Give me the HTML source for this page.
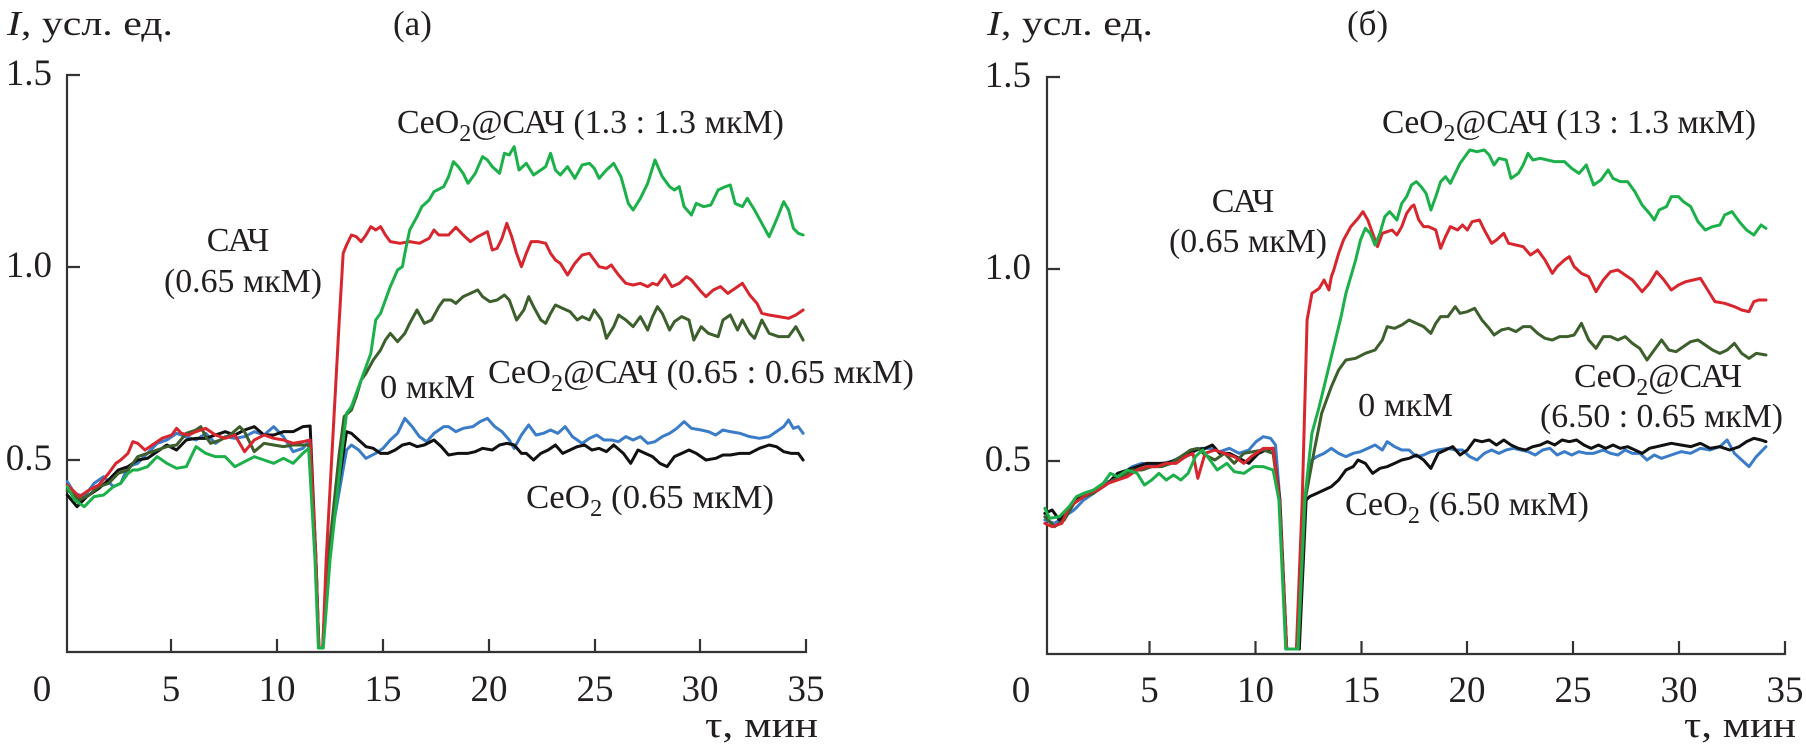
<!DOCTYPE html>
<html><head><meta charset="utf-8"><style>
html,body{margin:0;padding:0;background:#fff;}
svg{display:block;}
text{font-family:"Liberation Serif","DejaVu Serif",serif;fill:#231f20;}
.ax{stroke:#333;stroke-width:2.2;fill:none;}
.tk{font-size:37px;}
.an{font-size:34px;}
.s{fill:none;stroke-width:3;stroke-linejoin:round;stroke-linecap:round;vector-effect:non-scaling-stroke;}
.r{stroke:#d7262e;}.g{stroke:#1cb04b;}.d{stroke:#3c5f2c;}.b{stroke:#3b7cc9;}.k{stroke:#111;}
</style></head><body>
<svg width="1806" height="751" viewBox="0 0 1806 751" xmlns="http://www.w3.org/2000/svg">
<!-- Panel a axes -->
<path class="ax" d="M80,75 H67 V652 H806 V639 M67,267 H80 M67,460 H80 M171,652 V639 M277,652 V639 M383,652 V639 M489,652 V639 M595,652 V639 M700,652 V639"/>
<text x="7" y="35" font-size="35" textLength="166" lengthAdjust="spacingAndGlyphs"><tspan font-style="italic">I</tspan>, усл. ед.</text>
<text x="393" y="35" font-size="35">(а)</text>
<text class="tk" x="52" y="85" text-anchor="end">1.5</text>
<text class="tk" x="52" y="277" text-anchor="end">1.0</text>
<text class="tk" x="52" y="470" text-anchor="end">0.5</text>
<text class="tk" x="42" y="701" text-anchor="middle">0</text>
<text class="tk" x="171" y="701" text-anchor="middle">5</text>
<text class="tk" x="277" y="701" text-anchor="middle">10</text>
<text class="tk" x="383" y="701" text-anchor="middle">15</text>
<text class="tk" x="489" y="701" text-anchor="middle">20</text>
<text class="tk" x="595" y="701" text-anchor="middle">25</text>
<text class="tk" x="700" y="701" text-anchor="middle">30</text>
<text class="tk" x="806" y="701" text-anchor="middle">35</text>
<text class="tk" x="705" y="737" textLength="113" lengthAdjust="spacingAndGlyphs">τ, мин</text>

<!-- Panel b axes -->
<path class="ax" d="M1060,77 H1047 V654 H1785 V641 M1047,269 H1060 M1047,461 H1060 M1149.5,654 V641 M1255.5,654 V641 M1361.5,654 V641 M1467,654 V641 M1573,654 V641 M1679,654 V641"/>
<text x="987" y="35" font-size="35" textLength="166" lengthAdjust="spacingAndGlyphs"><tspan font-style="italic">I</tspan>, усл. ед.</text>
<text x="1347" y="35" font-size="35">(б)</text>
<text class="tk" x="1031" y="87" text-anchor="end">1.5</text>
<text class="tk" x="1031" y="279" text-anchor="end">1.0</text>
<text class="tk" x="1031" y="471" text-anchor="end">0.5</text>
<text class="tk" x="1021" y="702" text-anchor="middle">0</text>
<text class="tk" x="1149.5" y="702" text-anchor="middle">5</text>
<text class="tk" x="1255.5" y="702" text-anchor="middle">10</text>
<text class="tk" x="1361.5" y="702" text-anchor="middle">15</text>
<text class="tk" x="1467" y="702" text-anchor="middle">20</text>
<text class="tk" x="1573" y="702" text-anchor="middle">25</text>
<text class="tk" x="1679" y="702" text-anchor="middle">30</text>
<text class="tk" x="1785" y="702" text-anchor="middle">35</text>
<text class="tk" x="1684" y="737" textLength="112" lengthAdjust="spacingAndGlyphs">τ, мин</text>

<!-- Panel a data -->
<g transform="translate(60 120) scale(0.4857 0.33333)">
<polyline class="s b" points="15,1085 30,1120 50,1130 70,1090 90,1070 110,1100 125,1090 140,1040 160,1030 180,1000 200,970 220,960 240,940 260,950 280,960 300,940 320,970 340,950 360,955 380,950 400,935 420,945 440,920 460,950 480,995 500,985 515,960 527,1320 533,1584 541,1584 550,1320 590,990 600,975 615,990 630,1015 650,1000 665,985 680,960 695,940 710,895 725,920 740,950 755,965 770,940 790,920 800,920 815,935 830,925 850,920 865,905 880,895 895,920 910,935 925,960 935,985 950,945 965,915 980,945 995,940 1010,930 1025,940 1040,920 1055,950 1075,970 1090,955 1105,945 1120,960 1135,960 1150,965 1165,950 1180,960 1195,950 1210,970 1225,965 1240,950 1255,940 1270,925 1285,905 1300,925 1320,930 1335,935 1350,945 1365,930 1380,935 1400,940 1420,950 1440,955 1460,950 1475,935 1490,920 1500,900 1510,925 1520,920 1530,940"/>
<polyline class="s k" points="15,1125 35,1160 55,1130 80,1105 100,1080 120,1050 140,1040 160,1020 180,1015 200,995 220,975 240,990 260,960 280,955 300,955 320,945 340,935 360,945 380,930 400,920 420,945 440,945 460,935 480,935 500,920 515,918 527,1320 533,1584 541,1584 550,1320 590,935 600,940 615,960 630,980 645,985 660,1000 675,1000 690,990 705,975 720,970 735,980 750,975 770,960 785,980 800,1005 820,1000 840,1000 855,995 870,985 890,990 905,975 920,970 935,975 950,1000 960,1000 975,1020 990,1000 1005,990 1020,975 1035,1000 1050,990 1065,980 1080,975 1095,990 1110,985 1125,995 1140,975 1160,1000 1175,1030 1190,990 1205,1000 1220,1010 1235,1030 1250,1040 1265,1010 1280,1000 1295,990 1310,1000 1330,1020 1350,1015 1365,1005 1380,1005 1400,1000 1420,1000 1440,985 1460,975 1475,980 1490,995 1505,1000 1520,1000 1530,1020"/>
<polyline class="s d" points="15,1110 40,1140 60,1125 80,1100 100,1090 120,1060 140,1050 160,1010 180,1000 200,990 220,980 240,975 260,940 280,930 290,920 300,950 310,970 330,960 350,945 370,920 380,935 400,995 420,970 440,975 460,980 480,975 500,975 512,975 526,1320 533,1584 541,1584 552,1320 575,1000 585,890 600,870 610,830 620,780 630,760 645,720 660,690 670,660 680,640 695,665 710,640 720,610 735,570 750,610 765,600 780,560 790,540 805,540 815,550 830,530 845,520 860,510 870,530 885,545 900,540 915,525 925,540 940,600 955,570 965,530 975,560 990,600 1000,610 1010,580 1020,555 1035,565 1050,575 1065,600 1075,590 1090,600 1100,570 1115,600 1125,655 1140,620 1150,585 1165,600 1180,620 1195,590 1210,630 1220,590 1230,560 1240,580 1255,630 1265,605 1280,590 1295,600 1305,660 1320,620 1335,640 1355,650 1365,600 1380,585 1395,630 1405,600 1420,640 1430,655 1445,600 1460,640 1480,650 1500,650 1515,620 1530,660"/>
<polyline class="s r" points="15,1095 40,1130 60,1110 80,1095 100,1060 115,1030 125,1020 140,1000 150,965 160,970 175,990 190,975 210,955 230,945 240,925 250,940 265,945 280,935 300,925 320,945 340,955 360,945 380,995 400,960 420,945 440,955 460,960 480,970 500,965 515,960 527,1320 533,1584 541,1584 548,1320 575,600 583,400 590,375 600,345 610,350 620,365 630,345 640,320 650,330 660,320 670,345 680,365 700,370 720,365 740,370 760,355 770,330 780,345 800,345 815,322 830,345 845,365 860,350 880,335 890,390 900,385 910,355 920,310 930,350 940,400 950,440 960,400 970,365 985,365 1000,370 1010,400 1020,420 1030,430 1045,465 1060,430 1075,405 1090,400 1100,420 1110,440 1125,445 1135,435 1150,465 1165,490 1180,495 1195,490 1210,500 1220,490 1230,495 1245,465 1260,500 1275,490 1290,470 1300,480 1320,515 1330,530 1345,510 1360,500 1375,520 1390,505 1405,490 1420,525 1435,550 1445,580 1460,585 1480,590 1500,595 1515,585 1530,570"/>
<polyline class="s g" points="15,1100 30,1140 50,1160 70,1130 90,1125 110,1100 125,1090 140,1060 150,1050 160,1050 180,1040 200,1010 220,1030 240,1045 260,1040 280,980 300,1000 320,1010 340,1010 360,1040 380,1025 400,1010 420,1020 440,1030 460,1015 480,1030 500,1000 512,985 525,1320 532,1584 542,1584 556,1320 580,1000 590,880 600,860 615,800 625,760 640,700 650,600 660,580 670,540 680,500 695,450 705,440 710,400 720,330 735,290 745,260 760,240 770,215 790,200 800,170 810,125 820,140 830,160 840,190 855,160 870,110 880,120 890,140 905,160 915,100 925,105 935,80 945,150 960,130 975,165 990,150 1000,140 1010,100 1020,150 1030,165 1045,140 1060,175 1075,135 1090,130 1100,145 1110,175 1125,150 1140,130 1155,170 1170,250 1180,270 1195,235 1210,190 1225,120 1240,170 1255,200 1265,210 1275,200 1285,260 1300,285 1310,250 1325,260 1340,255 1355,210 1370,200 1380,195 1390,250 1405,260 1415,235 1430,270 1445,310 1460,350 1475,300 1490,245 1500,270 1510,325 1520,340 1530,345"/>
</g>

<!-- Panel b data -->
<g transform="translate(1040 120) scale(0.4856 0.33333)">
<polyline class="s b" points="10,1200 30,1210 50,1190 70,1170 90,1140 110,1120 130,1090 150,1080 170,1060 190,1040 210,1030 230,1035 250,1030 270,1025 290,1010 310,1000 330,985 350,985 370,995 390,985 410,1000 430,990 445,965 460,950 475,955 485,975 494,1140 508,1587 530,1587 545,1140 560,1020 570,1010 585,1000 600,985 615,1000 630,1010 645,1000 660,995 675,985 690,975 705,990 715,965 730,980 745,990 760,990 775,1010 790,1005 805,995 820,990 840,985 855,990 870,990 885,1010 900,1020 915,1000 930,990 945,1000 960,990 975,985 990,990 1005,995 1020,1005 1035,990 1050,985 1065,1005 1080,995 1095,1005 1110,995 1125,1000 1140,1000 1160,990 1175,1000 1190,1005 1205,990 1220,1000 1235,1000 1250,1020 1265,1005 1280,1015 1300,1005 1320,995 1340,1000 1360,985 1380,990 1400,980 1415,960 1430,1000 1445,1020 1460,1040 1475,1010 1495,980"/>
<polyline class="s k" points="10,1180 25,1170 40,1200 60,1170 80,1130 100,1120 120,1110 140,1090 160,1060 180,1050 200,1040 220,1030 240,1030 260,1030 280,1020 300,1010 320,990 340,985 355,975 370,1000 390,1000 410,1015 430,1030 450,1000 465,990 480,985 494,1140 508,1587 534,1587 548,1140 555,1130 570,1120 585,1110 600,1100 615,1080 630,1050 645,1040 655,1020 670,1030 685,1060 700,1045 715,1040 730,1030 745,1020 760,1015 775,1005 790,1020 805,1045 820,1000 835,990 850,980 865,1005 880,990 895,960 910,965 925,960 940,975 955,960 970,975 985,985 1000,990 1015,980 1030,975 1045,965 1060,975 1075,960 1090,965 1105,960 1120,975 1135,985 1150,975 1165,985 1180,975 1195,985 1210,980 1225,990 1240,1000 1255,985 1270,980 1285,975 1300,970 1320,975 1340,980 1360,970 1380,985 1400,980 1420,990 1440,980 1455,965 1470,955 1485,960 1495,965"/>
<polyline class="s d" points="10,1190 30,1220 50,1200 70,1150 90,1130 110,1120 130,1100 150,1080 170,1070 190,1050 210,1050 230,1040 250,1040 270,1030 290,1010 310,990 325,985 340,1005 360,1020 380,1000 400,1030 420,1000 440,995 460,990 480,1000 493,1140 508,1587 532,1587 546,1140 565,990 580,880 600,800 615,750 630,720 650,715 670,700 690,690 705,660 715,620 730,625 745,615 760,600 775,610 790,620 805,640 815,610 825,590 840,590 855,560 865,580 880,575 895,565 910,600 925,625 935,645 950,630 965,625 980,635 995,620 1010,620 1025,640 1040,655 1055,660 1070,650 1085,650 1100,645 1115,610 1130,660 1145,685 1160,650 1175,650 1190,660 1205,650 1220,670 1235,685 1250,720 1265,690 1280,660 1295,690 1310,695 1325,680 1340,665 1355,660 1370,675 1385,690 1400,700 1415,690 1430,670 1445,700 1460,715 1475,700 1495,705"/>
<polyline class="s r" points="10,1210 25,1220 45,1210 60,1160 80,1140 100,1120 120,1110 140,1090 160,1080 180,1070 200,1050 220,1040 240,1040 260,1030 280,1030 300,1010 315,1000 325,1075 340,1000 360,990 380,1000 400,1010 420,1030 435,1010 460,985 480,985 493,1140 508,1587 528,1587 540,1140 550,600 560,520 575,505 585,480 595,510 600,470 605,450 615,400 625,360 640,320 655,295 665,275 675,300 685,340 695,380 705,340 715,335 725,330 735,345 745,320 755,280 765,260 770,255 780,300 790,320 800,320 815,330 825,385 835,350 845,320 860,330 870,315 880,330 890,305 905,300 915,330 930,370 940,360 955,340 965,370 980,375 995,380 1010,405 1025,390 1040,420 1055,460 1065,440 1080,420 1090,410 1100,440 1115,460 1130,470 1145,515 1160,480 1175,455 1190,450 1205,465 1220,480 1240,515 1255,490 1270,455 1285,480 1300,510 1315,495 1330,485 1345,480 1360,475 1375,510 1390,545 1410,550 1430,560 1445,570 1460,575 1470,545 1480,540 1495,540"/>
<polyline class="s g" points="10,1165 20,1195 40,1190 60,1160 75,1130 90,1120 110,1110 130,1090 145,1060 160,1070 180,1050 200,1060 215,1095 230,1080 245,1060 260,1080 275,1065 290,1080 305,1060 320,1010 335,990 350,1020 365,1050 385,1030 400,1055 420,1060 440,1040 460,1040 480,1050 492,1140 506,1587 531,1587 545,1140 560,940 575,860 590,770 605,680 620,590 630,520 640,470 650,420 660,360 670,325 680,340 690,375 700,340 710,290 720,275 735,300 745,250 755,230 765,195 775,185 785,200 795,220 805,270 815,230 825,185 835,170 845,190 855,160 865,130 875,110 885,90 900,95 915,90 925,105 935,135 945,115 960,120 970,175 985,160 995,135 1005,100 1015,120 1030,115 1045,120 1060,125 1080,125 1095,145 1110,160 1125,135 1140,195 1155,180 1170,150 1180,175 1195,185 1210,185 1225,215 1240,255 1255,280 1265,300 1275,270 1290,260 1300,230 1315,230 1325,245 1340,260 1355,305 1370,330 1385,320 1400,315 1410,285 1425,275 1440,305 1455,330 1470,345 1485,315 1495,325"/>
</g>

<!-- Panel a annotations -->
<text class="an" x="397" y="133" textLength="387" lengthAdjust="spacingAndGlyphs">CeO<tspan font-size="24" dy="8">2</tspan><tspan dy="-8">@САЧ (1.3 : 1.3 мкМ)</tspan></text>
<text class="an" x="238" y="251" text-anchor="middle">САЧ</text>
<text class="an" x="164" y="292" textLength="158" lengthAdjust="spacingAndGlyphs">(0.65 мкМ)</text>
<text class="an" x="380" y="398" textLength="95" lengthAdjust="spacingAndGlyphs">0 мкМ</text>
<text class="an" x="488" y="383" textLength="426" lengthAdjust="spacingAndGlyphs">CeO<tspan font-size="24" dy="8">2</tspan><tspan dy="-8">@САЧ (0.65 : 0.65 мкМ)</tspan></text>
<text class="an" x="526" y="508" textLength="248" lengthAdjust="spacingAndGlyphs">CeO<tspan font-size="24" dy="8">2</tspan><tspan dy="-8"> (0.65 мкМ)</tspan></text>

<!-- Panel b annotations -->
<text class="an" x="1382" y="133" textLength="374" lengthAdjust="spacingAndGlyphs">CeO<tspan font-size="24" dy="8">2</tspan><tspan dy="-8">@САЧ (13 : 1.3 мкМ)</tspan></text>
<text class="an" x="1243" y="212" text-anchor="middle">САЧ</text>
<text class="an" x="1169" y="252" textLength="158" lengthAdjust="spacingAndGlyphs">(0.65 мкМ)</text>
<text class="an" x="1358" y="416" textLength="95" lengthAdjust="spacingAndGlyphs">0 мкМ</text>
<text class="an" x="1574" y="387" textLength="168" lengthAdjust="spacingAndGlyphs">CeO<tspan font-size="24" dy="8">2</tspan><tspan dy="-8">@САЧ</tspan></text>
<text class="an" x="1540" y="427" textLength="243" lengthAdjust="spacingAndGlyphs">(6.50 : 0.65 мкМ)</text>
<text class="an" x="1345" y="515" textLength="244" lengthAdjust="spacingAndGlyphs">CeO<tspan font-size="24" dy="8">2</tspan><tspan dy="-8"> (6.50 мкМ)</tspan></text>
</svg>
</body></html>
